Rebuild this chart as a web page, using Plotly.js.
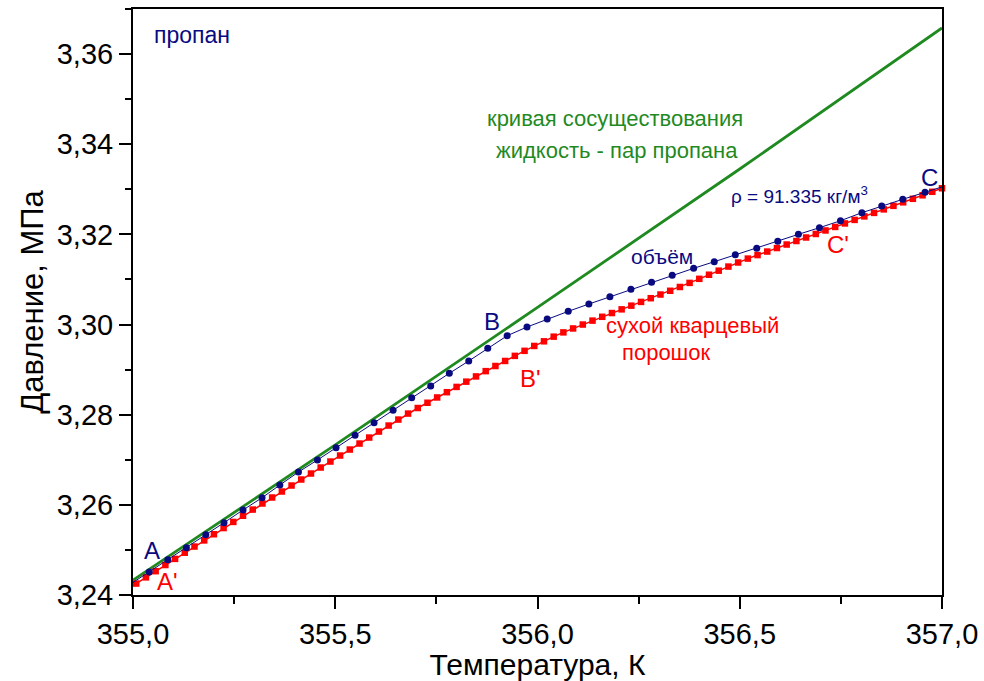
<!DOCTYPE html>
<html>
<head>
<meta charset="utf-8">
<script src="https://cdn.plot.ly/plotly-3.0.1.min.js"></script>
<style>html,body{margin:0;padding:0;background:#fff;}#chart{width:984px;height:681px;}</style>
</head>
<body>
<div id="chart"></div>
<script>
// Coexistence curve (green)
const coexT = [355.0, 355.5, 356.0, 356.5, 357.0];
const coexP = [3.2433, 3.2733, 3.3038, 3.3345, 3.3658];

// Bulk volume, rho = 91.335 kg/m3 (navy dots)
const volT = [354.993, 355.040, 355.086, 355.132, 355.180, 355.225, 355.272, 355.319, 355.363, 355.409,
  355.456, 355.502, 355.549, 355.596, 355.643, 355.689, 355.736, 355.782, 355.830, 355.877,
  355.925, 355.974, 356.024, 356.076, 356.127, 356.179, 356.231, 356.282, 356.333, 356.386,
  356.437, 356.489, 356.542, 356.594, 356.645, 356.697, 356.749, 356.802, 356.851, 356.903,
  356.958, 357.007];
const volP = [3.24237, 3.24510, 3.24783, 3.25049, 3.25338, 3.25604, 3.25886, 3.26158, 3.26440, 3.26728,
  3.26995, 3.27268, 3.27543, 3.27822, 3.28097, 3.28377, 3.28636, 3.28918, 3.29191, 3.29473,
  3.29752, 3.29945, 3.30122, 3.30293, 3.30455, 3.30617, 3.30781, 3.30937, 3.31092, 3.31247,
  3.31394, 3.31549, 3.31691, 3.31846, 3.32001, 3.32148, 3.32303, 3.32481, 3.32629, 3.32778,
  3.32933, 3.33073];

// Dry quartz powder (red squares)
const powT = [354.984, 355.008, 355.032, 355.056, 355.080, 355.104, 355.128, 355.152, 355.176, 355.200,
  355.224, 355.248, 355.272, 355.296, 355.320, 355.344, 355.368, 355.392, 355.416, 355.440,
  355.464, 355.488, 355.512, 355.536, 355.560, 355.584, 355.608, 355.632, 355.656, 355.680,
  355.704, 355.728, 355.752, 355.776, 355.800, 355.824, 355.848, 355.872, 355.896, 355.920,
  355.944, 355.968, 355.992, 356.016, 356.040, 356.064, 356.088, 356.112, 356.136, 356.160,
  356.184, 356.208, 356.232, 356.256, 356.280, 356.304, 356.328, 356.352, 356.376, 356.400,
  356.424, 356.448, 356.472, 356.496, 356.520, 356.544, 356.568, 356.592, 356.616, 356.640,
  356.664, 356.688, 356.712, 356.736, 356.760, 356.784, 356.808, 356.832, 356.856, 356.880,
  356.904, 356.928, 356.952, 356.976, 357.000];
const powP = [3.24118, 3.24254, 3.24391, 3.24528, 3.24665, 3.24801, 3.24938, 3.25075, 3.25211, 3.25348,
  3.25485, 3.25621, 3.25758, 3.25895, 3.26030, 3.26163, 3.26296, 3.26429, 3.26562, 3.26695,
  3.26828, 3.26961, 3.27094, 3.27227, 3.27360, 3.27493, 3.27626, 3.27759, 3.27892, 3.28025,
  3.28148, 3.28265, 3.28382, 3.28499, 3.28616, 3.28733, 3.28849, 3.28966, 3.29080, 3.29192,
  3.29305, 3.29417, 3.29525, 3.29628, 3.29731, 3.29826, 3.29913, 3.30000, 3.30087, 3.30172,
  3.30255, 3.30337, 3.30419, 3.30502, 3.30584, 3.30666, 3.30749, 3.30833, 3.30924, 3.31014,
  3.31105, 3.31195, 3.31286, 3.31376, 3.31463, 3.31541, 3.31619, 3.31697, 3.31775, 3.31853,
  3.31931, 3.32009, 3.32087, 3.32165, 3.32243, 3.32321, 3.32399, 3.32477, 3.32555, 3.32633,
  3.32711, 3.32789, 3.32867, 3.32945, 3.33023];

const xTickVals = [355.0, 355.5, 356.0, 356.5, 357.0];
const xTickText = ["355,0", "355,5", "356,0", "356,5", "357,0"];
const yTickVals = [3.24, 3.26, 3.28, 3.30, 3.32, 3.34, 3.36];
const yTickText = ["3,24", "3,26", "3,28", "3,30", "3,32", "3,34", "3,36"];

const NAVY = "#0a0a80";
const RED = "#ff0000";
const GREEN = "#1f8a1f";
const FONT = "Liberation Sans, Arial, sans-serif";

const traces = [
  {x: coexT, y: coexP, mode: "lines", line: {color: GREEN, width: 2.8}, cliponaxis: false, hoverinfo: "skip"},
  {x: powT, y: powP, mode: "lines+markers", line: {color: RED, width: 1.5},
   marker: {symbol: "square", size: 6.5, color: RED}, cliponaxis: false},
  {x: volT, y: volP, mode: "lines+markers", line: {color: NAVY, width: 1},
   marker: {symbol: "circle", size: 7, color: NAVY}, cliponaxis: false}
];

function ann(x, y, text, color, size, xanchor) {
  return {x: x, y: y, xref: "x", yref: "y", text: text, showarrow: false,
    xanchor: xanchor || "center", yanchor: "middle",
    font: {family: FONT, size: size, color: color}};
}

const layout = {
  width: 984, height: 681,
  margin: {l: 133, r: 42, t: 9, b: 86},
  paper_bgcolor: "#fff", plot_bgcolor: "#fff",
  showlegend: false,
  font: {family: FONT, color: "#000"},
  xaxis: {
    range: [355.0, 357.0], tickvals: xTickVals, ticktext: xTickText,
    ticks: "outside", ticklen: 12, tickwidth: 2, tickcolor: "#000",
    minor: {dtick: 0.25, ticks: "outside", ticklen: 7, tickwidth: 2, tickcolor: "#000"},
    showline: true, linewidth: 2, linecolor: "#000", mirror: true,
    showgrid: false, zeroline: false,
    tickfont: {family: FONT, size: 29, color: "#000"},
    title: {text: "Температура, К", font: {family: FONT, size: 30, color: "#000"}, standoff: 6}
  },
  yaxis: {
    range: [3.24, 3.37], tickvals: yTickVals, ticktext: yTickText,
    ticks: "outside", ticklen: 12, tickwidth: 2, tickcolor: "#000",
    minor: {dtick: 0.01, ticks: "outside", ticklen: 6, tickwidth: 2, tickcolor: "#000"},
    showline: true, linewidth: 2, linecolor: "#000", mirror: true,
    showgrid: false, zeroline: false,
    tickfont: {family: FONT, size: 29, color: "#000"},
    title: {text: "Давление, МПа", font: {family: FONT, size: 31, color: "#000"}, standoff: 4}
  },
  annotations: [
    ann(355.047, 3.3642, "пропан", NAVY, 23, "left"),
    ann(356.1916, 3.3458, "кривая сосуществования", GREEN, 22),
    ann(356.1966, 3.3387, "жидкость - пар пропана", GREEN, 22),
    ann(356.6465, 3.3288, "ρ = 91.335 кг/м<sup>3</sup>", NAVY, 19),
    ann(356.3078, 3.3150, "объём", NAVY, 21),
    ann(356.382, 3.2997, "сухой кварцевый", RED, 22),
    ann(356.320, 3.2939, "порошок", RED, 22),
    ann(355.047, 3.2498, "A", NAVY, 24),
    ann(355.0865, 3.2429, "A'", RED, 24),
    ann(355.8875, 3.3006, "B", NAVY, 24),
    ann(355.9815, 3.2881, "B'", RED, 24),
    ann(356.970, 3.3327, "C", NAVY, 24),
    ann(356.743, 3.3177, "C'", RED, 24)
  ]
};

Plotly.newPlot("chart", traces, layout, {staticPlot: true, displayModeBar: false});
</script>
</body>
</html>
